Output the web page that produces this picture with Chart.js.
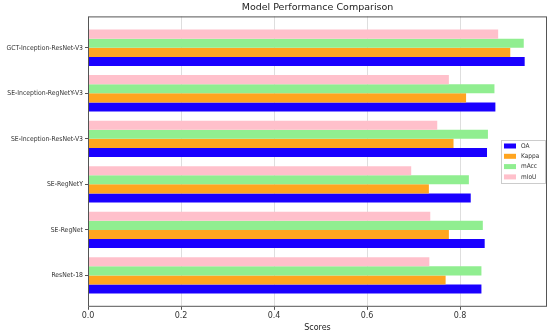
<!DOCTYPE html>
<html lang="en">
<head>
    <meta charset="utf-8">
    <title>Model Performance Comparison</title>
    <script src="https://cdn.jsdelivr.net/npm/chart.js"></script>
    <style>
        body { margin: 0; background: #fff; }
    </style>
</head>
<body>
    <canvas id="perfChart" width="550" height="335"></canvas>
    <script>
        // models, bottom to top
        var models = ['ResNet-18', 'SE-RegNet', 'SE-RegNetY', 'SE-Inception-ResNet-V3', 'SE-Inception-RegNetY-V3', 'GCT-Inception-ResNet-V3'];
        var oa    = [0.846, 0.853, 0.823, 0.858, 0.876, 0.939];
        var kappa = [0.769, 0.776, 0.733, 0.786, 0.813, 0.908];
        var macc  = [0.846, 0.849, 0.819, 0.860, 0.874, 0.937];
        var miou  = [0.734, 0.736, 0.695, 0.751, 0.776, 0.882];
        var xTicks = [0, 0.2, 0.4, 0.6, 0.8];

        function pts(arr) {
            return arr.map(function (v, i) { return { x: v, y: i }; });
        }

        // legend box + frame drawn inside the plot
        var framePlugin = {
            id: 'frame',
            afterDraw: function (chart) {
                var c = chart.ctx, a = chart.chartArea;
                c.save();
                c.strokeStyle = '#555';
                c.lineWidth = 1;
                c.strokeRect(a.left + 0.5, a.top + 0.5, a.right - a.left - 1, a.bottom - a.top - 1);

                var ds = chart.data.datasets.slice().reverse();
                var bx = 501, by = 140, bw = 44, bh = 43;
                c.fillStyle = 'rgba(255,255,255,0.85)';
                c.fillRect(bx, by, bw, bh);
                c.strokeStyle = '#ccc';
                c.strokeRect(bx + 0.5, by + 0.5, bw, bh);
                c.font = '6.5px "DejaVu Sans Condensed", "DejaVu Sans"';
                c.textBaseline = 'middle';
                ds.forEach(function (d, i) {
                    var y = by + 6 + i * 10.3;
                    c.fillStyle = d.backgroundColor;
                    c.fillRect(bx + 3, y - 2.5, 12, 5);
                    c.fillStyle = '#333';
                    c.fillText(d.label, bx + 20, y);
                });
                c.restore();
            }
        };

        var ctx = document.getElementById('perfChart').getContext('2d');
        var myChart = new Chart(ctx, {
            type: 'bar',
            data: {
                datasets: [
                    { label: 'mIoU', data: pts(miou), backgroundColor: '#ffc0cb' },
                    { label: 'mAcc', data: pts(macc), backgroundColor: '#90ee90' },
                    { label: 'Kappa', data: pts(kappa), backgroundColor: '#ffa520' },
                    { label: 'OA', data: pts(oa), backgroundColor: '#1a00ff' }
                ]
            },
            options: {
                indexAxis: 'y',
                responsive: false,
                animation: false,
                layout: { padding: { left: 4, right: 3, top: 0, bottom: 0 } },
                datasets: {
                    bar: { categoryPercentage: 0.8, barPercentage: 1.0 }
                },
                plugins: {
                    legend: { display: false },
                    tooltip: { enabled: false },
                    title: {
                        display: true,
                        fullSize: false,
                        text: 'Model Performance Comparison',
                        color: '#222',
                        font: { family: 'DejaVu Sans', size: 9.5, weight: 'normal' },
                        padding: { top: 2, bottom: 3 }
                    }
                },
                scales: {
                    x: {
                        type: 'linear',
                        min: 0,
                        max: 0.987,
                        afterBuildTicks: function (scale) {
                            scale.ticks = xTicks.map(function (v) { return { value: v }; });
                        },
                        ticks: {
                            color: '#333',
                            font: { family: 'DejaVu Sans', size: 8 },
                            padding: 1,
                            maxRotation: 0,
                            callback: function (v) { return Number(v).toFixed(1); }
                        },
                        grid: {
                            color: '#dedede',
                            borderDash: [3, 2],
                            tickColor: '#555',
                            tickBorderDash: [],
                            tickLength: 3
                        },
                        border: { display: false },
                        title: {
                            display: true,
                            text: 'Scores',
                            color: '#222',
                            font: { family: 'DejaVu Sans', size: 8 },
                            padding: { top: 2, bottom: 2 }
                        }
                    },
                    y: {
                        type: 'linear',
                        offset: false,
                        min: -0.69,
                        max: 5.69,
                        afterBuildTicks: function (scale) {
                            scale.ticks = models.map(function (m, i) { return { value: i }; });
                        },
                        afterFit: function (scale) { scale.width = 84; },
                        ticks: {
                            color: '#333',
                            font: { family: 'DejaVu Sans Condensed', size: 6.8 },
                            padding: 2,
                            callback: function (v) { return models[v]; }
                        },
                        grid: {
                            offset: false,
                            drawOnChartArea: false,
                            tickColor: '#555',
                            tickLength: 3
                        },
                        border: { display: false }
                    }
                }
            },
            plugins: [framePlugin]
        });
    </script>
</body>
</html>
